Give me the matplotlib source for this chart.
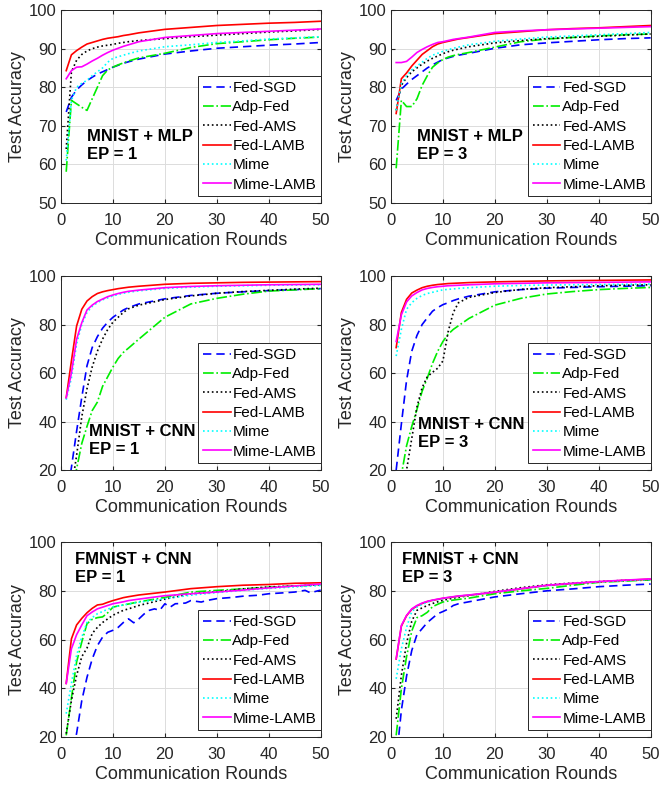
import matplotlib
matplotlib.use('Agg')
import matplotlib.pyplot as plt

plt.rcParams['font.family'] = ['Liberation Sans', 'DejaVu Sans']

rounds = [1, 2, 3, 4, 5, 6, 7, 8, 9, 10, 11, 12, 13, 15, 20, 25, 30, 35, 40, 45, 50]

names = ['Fed-SGD', 'Adp-Fed', 'Fed-AMS', 'Fed-LAMB', 'Mime', 'Mime-LAMB']

# MNIST + MLP, EP = 1
mlp1_sgd = [73.6, 77.4, 79.3, 80.6, 81.7, 82.6, 83.4, 84.0, 84.6, 85.2, 85.7, 86.2, 86.6, 87.3, 88.6, 89.4, 90.1, 90.5, 90.9, 91.2, 91.6]
mlp1_adp = [58.1, 76.6, 75.7, 74.8, 74.0, 77.0, 80.0, 83.0, 84.5, 85.2, 85.8, 86.3, 86.8, 87.6, 88.8, 90.3, 91.3, 91.8, 92.3, 92.7, 93.0]
mlp1_ams = [64.0, 84.0, 87.0, 88.5, 89.4, 90.0, 90.4, 90.7, 90.9, 91.1, 91.4, 91.6, 91.8, 92.1, 92.6, 93.1, 93.5, 93.9, 94.3, 94.6, 95.0]
mlp1_lamb = [84.3, 88.4, 89.5, 90.4, 91.2, 91.6, 92.0, 92.4, 92.7, 92.9, 93.1, 93.4, 93.6, 94.1, 95.0, 95.5, 96.0, 96.3, 96.6, 96.8, 97.1]
mlp1_mime = [61.0, 76.6, 80.0, 81.0, 81.8, 83.0, 84.0, 85.0, 86.5, 87.5, 87.9, 88.3, 88.7, 89.4, 90.5, 91.0, 91.6, 92.0, 92.5, 92.8, 93.1]
mlp1_mlamb = [82.2, 84.3, 85.2, 85.3, 86.0, 86.8, 87.5, 88.3, 89.0, 89.6, 90.1, 90.6, 91.0, 91.8, 92.9, 93.4, 93.9, 94.2, 94.5, 94.8, 95.1]

# MNIST + MLP, EP = 3
mlp3_sgd = [76.6, 79.5, 80.8, 82.0, 83.0, 84.0, 85.0, 85.8, 86.5, 87.2, 87.6, 88.0, 88.3, 88.8, 90.1, 91.0, 91.5, 91.9, 92.3, 92.6, 92.8]
mlp3_adp = [59.0, 76.6, 75.0, 75.0, 77.0, 80.5, 83.0, 85.2, 86.3, 87.2, 87.8, 88.2, 88.5, 89.0, 90.4, 91.8, 92.5, 92.9, 93.3, 93.6, 93.8]
mlp3_ams = [74.0, 80.5, 82.5, 84.0, 85.0, 86.0, 86.8, 87.5, 88.1, 88.7, 89.2, 89.6, 89.9, 90.5, 91.5, 92.1, 92.6, 92.9, 93.2, 93.5, 93.8]
mlp3_lamb = [73.2, 82.2, 83.7, 85.5, 87.0, 88.5, 89.5, 90.5, 91.2, 91.6, 91.9, 92.2, 92.5, 92.9, 93.9, 94.4, 94.9, 95.2, 95.4, 95.7, 96.0]
mlp3_mime = [74.0, 81.0, 83.0, 84.5, 85.5, 86.5, 87.5, 88.3, 88.8, 89.3, 89.7, 90.1, 90.4, 91.0, 91.9, 92.5, 93.0, 93.3, 93.6, 93.9, 94.2]
mlp3_mlamb = [86.4, 86.4, 86.7, 87.8, 89.0, 89.8, 90.5, 91.1, 91.6, 91.8, 92.1, 92.4, 92.6, 93.0, 94.2, 94.6, 94.9, 95.1, 95.3, 95.5, 95.7]

# MNIST + CNN, EP = 1
cnn1_sgd = [8, 21, 36, 50, 63, 70.5, 75, 78.5, 81, 83, 84.5, 86, 87, 88.5, 90.6, 92, 92.9, 93.5, 94, 94.4, 94.8]
cnn1_adp = [2, 10, 20.5, 31, 38, 44.5, 48, 54.5, 58.5, 62.5, 66, 68.5, 70.3, 74, 83, 88.5, 90.8, 92.5, 93.8, 94.3, 94.8]
cnn1_ams = [3, 12, 26, 42, 53.5, 62.5, 69, 74, 78, 81, 83, 85, 86.5, 88, 90.3, 91.8, 92.9, 93.6, 94.1, 94.6, 95]
cnn1_lamb = [49.8, 65, 79.4, 86.3, 89.7, 91.5, 92.8, 93.5, 94, 94.4, 94.8, 95.1, 95.4, 95.8, 96.6, 97, 97.2, 97.4, 97.5, 97.6, 97.7]
cnn1_mime = [49, 58, 72, 80, 85, 87.5, 89, 90.2, 91, 91.8, 92.4, 92.9, 93.3, 93.9, 94.9, 95.4, 95.8, 96, 96.2, 96.3, 96.4]
cnn1_mlamb = [49.8, 60, 73.9, 80.8, 86, 88, 89.5, 90.5, 91.5, 92.2, 92.8, 93.3, 93.7, 94.2, 95.2, 95.7, 96, 96.2, 96.4, 96.5, 96.6]

# MNIST + CNN, EP = 3
cnn3_sgd = [20, 39, 57, 69, 75.5, 80, 82.8, 85.5, 87, 88.2, 89, 89.9, 90.6, 91.7, 93.5, 94.4, 95, 95.3, 95.6, 95.8, 96]
cnn3_adp = [8, 18, 30, 38, 45, 52.5, 58, 64, 69, 73, 76, 78, 79.5, 82.5, 88, 90.8, 92.6, 93.6, 94.4, 94.9, 95.3]
cnn3_ams = [3, 10, 20, 33, 46, 54, 58.5, 60.3, 62, 65, 77, 85, 89, 91.2, 93.2, 94.5, 95.2, 95.6, 96, 96.2, 96.4]
cnn3_lamb = [70.5, 85, 90.4, 93, 94.2, 95.2, 95.8, 96.2, 96.5, 96.7, 96.9, 97, 97.1, 97.3, 97.6, 97.8, 98, 98.1, 98.2, 98.3, 98.4]
cnn3_mime = [67, 78, 86.3, 89, 90.8, 92, 92.8, 93.3, 93.8, 94.3, 94.5, 94.7, 94.9, 95.2, 95.8, 96.1, 96.3, 96.4, 96.5, 96.6, 96.7]
cnn3_mlamb = [73, 84, 89.3, 91.8, 93.2, 94.3, 94.9, 95.3, 95.6, 95.8, 96, 96.1, 96.2, 96.4, 96.8, 97, 97.2, 97.3, 97.4, 97.5, 97.6]

# FMNIST + CNN, EP = 1 (Fed-SGD is jagged, so it has its own rounds)
fm1_sgd_rounds = [1, 2, 3, 4, 5, 6, 7, 8, 9, 10, 11, 12, 13, 14, 15, 16, 17, 18, 19, 20, 21, 22, 23, 24, 25,
                  27, 28, 30, 33, 35, 38, 40, 43, 45, 47, 48, 50]
fm1_sgd = [5, 12, 21.5, 35, 44.5, 52, 57.5, 61, 63, 63.8, 65, 67, 68.5, 66.9, 68.5, 70.5, 72, 72.6, 72, 74.7, 73.3, 74.7,
           74.8, 75, 76, 75.4, 76, 76.8, 77.3, 77.8, 78.2, 78.8, 79.2, 79.5, 80.2, 79.2, 80.3]
fm1_adp = [20.7, 36, 50.8, 59, 66.5, 68.3, 69, 69.3, 71, 73.3, 73.8, 74.2, 74.6, 75.5, 77.3, 79.5, 80.2, 80.8, 81.5, 82, 82.5]
fm1_ams = [21.4, 35, 45.3, 53, 56.5, 62.5, 65, 67, 68.5, 70, 71, 72, 72.6, 74, 76.6, 78.8, 79.6, 80.8, 81.6, 82, 82.5]
fm1_lamb = [42, 60.3, 66, 68.7, 71, 72.8, 74.2, 74.5, 75.3, 76, 76.6, 77.2, 77.6, 78.3, 79.5, 80.9, 81.7, 82.3, 82.6, 83.1, 83.3]
fm1_mime = [29.6, 42, 53.5, 61, 67, 69, 70.6, 71.5, 72.5, 73.3, 73.8, 74.2, 74.6, 75.3, 76.8, 78.2, 79.3, 80.2, 81, 81.6, 82.2]
fm1_mlamb = [42, 56.2, 62, 66, 69.8, 71.3, 72.6, 73.3, 74, 74.7, 75.1, 75.5, 76, 76.6, 78, 78.8, 79.5, 80.3, 81.2, 82, 82.8]

# FMNIST + CNN, EP = 3
fm3_sgd = [10, 31, 45, 55.5, 62, 64.5, 67, 68.8, 70.6, 71.5, 72.5, 74, 74.7, 75.5, 77.5, 78.8, 80, 80.8, 81.7, 82.3, 82.8]
fm3_adp = [20.7, 39.8, 53, 63.5, 69, 69.8, 71.2, 73.5, 74.5, 75.4, 75.8, 76.2, 76.5, 77, 78.8, 80, 81, 82.3, 83.5, 84, 84.5]
fm3_ams = [27.5, 45.3, 58.5, 67.5, 72, 73, 74, 74.8, 75.5, 76.1, 76.6, 77, 77.4, 78, 79.8, 81.3, 82.5, 83.2, 83.8, 84.3, 84.6]
fm3_lamb = [52, 65.5, 69.8, 72.4, 73.8, 74.8, 75.6, 76.1, 76.5, 76.9, 77.2, 77.5, 77.8, 78.2, 79.4, 80.8, 82.2, 83, 83.7, 84.3, 84.8]
fm3_mime = [43.9, 56.2, 65, 71.5, 73.3, 74.5, 75.3, 76, 76.4, 76.8, 77.2, 77.5, 77.8, 78.2, 79.4, 80.8, 82.1, 83, 83.6, 84.2, 84.6]
fm3_mlamb = [52.1, 65.8, 69.9, 72.6, 74, 75, 75.7, 76.2, 76.6, 77, 77.3, 77.6, 77.9, 78.3, 79.5, 80.9, 82.3, 83.1, 83.8, 84.4, 84.9]

styles = [dict(color='#0000ff', ls=(0, (5, 3))),
          dict(color='#00ee00', ls='-.'),
          dict(color='black', ls=':'),
          dict(color='#ff0000', ls='-'),
          dict(color='#00ffff', ls=':'),
          dict(color='#ff00ff', ls='-')]

panels = [
    ('MNIST + MLP\nEP = 1', (5, 65), (50, 100), 10, [mlp1_sgd, mlp1_adp, mlp1_ams, mlp1_lamb, mlp1_mime, mlp1_mlamb], rounds),
    ('MNIST + MLP\nEP = 3', (5, 65), (50, 100), 10, [mlp3_sgd, mlp3_adp, mlp3_ams, mlp3_lamb, mlp3_mime, mlp3_mlamb], rounds),
    ('MNIST + CNN\nEP = 1', (5.4, 32), (20, 100), 20, [cnn1_sgd, cnn1_adp, cnn1_ams, cnn1_lamb, cnn1_mime, cnn1_mlamb], rounds),
    ('MNIST + CNN\nEP = 3', (5.2, 35), (20, 100), 20, [cnn3_sgd, cnn3_adp, cnn3_ams, cnn3_lamb, cnn3_mime, cnn3_mlamb], rounds),
    ('FMNIST + CNN\nEP = 1', (2.7, 89), (20, 100), 20, [fm1_sgd, fm1_adp, fm1_ams, fm1_lamb, fm1_mime, fm1_mlamb], fm1_sgd_rounds),
    ('FMNIST + CNN\nEP = 3', (2.1, 89), (20, 100), 20, [fm3_sgd, fm3_adp, fm3_ams, fm3_lamb, fm3_mime, fm3_mlamb], rounds),
]

fig = plt.figure(figsize=(6.59, 7.86), dpi=100)
lefts = [0.0926, 0.5933]
bottoms = [0.7417, 0.402, 0.0623]
heights = [0.2455, 0.2468, 0.248]

dark = '#262626'
for i, (title, tpos, ylim, ystep, series, sgd_x) in enumerate(panels):
    r, c = divmod(i, 2)
    ax = fig.add_axes([lefts[c], bottoms[r], 0.394, heights[r]])
    for j, (name, ys) in enumerate(zip(names, series)):
        xs = sgd_x if j == 0 else rounds
        ax.plot(xs, ys, lw=1.2, label=name, **styles[j])
    ax.set_xlim(0, 50)
    ax.set_ylim(*ylim)
    ax.set_xticks(range(0, 51, 10))
    ax.set_yticks(range(ylim[0], ylim[1] + 1, ystep))
    ax.grid(True, color='#dcdcdc', lw=0.7)
    ax.set_axisbelow(True)
    ax.tick_params(direction='in', top=True, right=True, length=3, labelsize=12,
                   colors=dark, labelcolor=dark)
    ax.tick_params(axis='x', pad=7)
    ax.tick_params(axis='y', pad=3)
    for s in ax.spines.values():
        s.set_color(dark)
        s.set_linewidth(0.7)
    ax.set_xlabel('Communication Rounds', fontsize=13, color=dark, labelpad=3)
    ax.set_ylabel('Test Accuracy', fontsize=13, color=dark, labelpad=2)
    ax.text(tpos[0], tpos[1], title, fontsize=12, fontweight='bold', ha='left', va='center',
            linespacing=1.25)
    leg = ax.legend(loc='lower right', bbox_to_anchor=(1.0, 0.035), borderaxespad=0,
                    fontsize=11, frameon=True, fancybox=False, framealpha=1,
                    edgecolor=dark, handlelength=1.8, handletextpad=0.12,
                    labelspacing=0.35, borderpad=0.3)
    leg.get_frame().set_linewidth(0.7)

fig.savefig('out.png', dpi=100)
